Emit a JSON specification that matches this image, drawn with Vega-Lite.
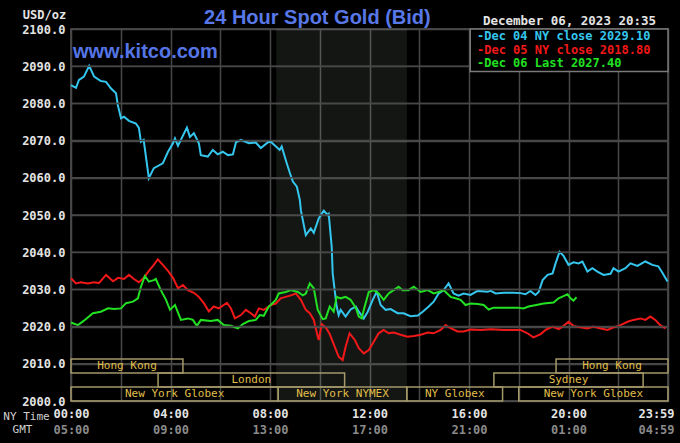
{
  "$schema": "https://vega.github.io/schema/vega-lite/v6.json",
  "width": 597,
  "height": 372,
  "autosize": "none",
  "padding": {"left": 71, "top": 29, "right": 12, "bottom": 42},
  "background": "#000000",
  "datasets": {
    "levels": [{"v": 2010}, {"v": 2020}, {"v": 2030}, {"v": 2040}, {"v": 2050}, {"v": 2060}, {"v": 2070}, {"v": 2080}, {"v": 2090}],
    "prices": [
      {"s":"Dec 05","t":0,"p":2033},{"s":"Dec 05","t":0.2,"p":2031.6},{"s":"Dec 05","t":0.4,"p":2031.9},{"s":"Dec 05","t":0.68,"p":2031.6},{"s":"Dec 05","t":0.92,"p":2031.9},{"s":"Dec 05","t":1.12,"p":2031.7},{"s":"Dec 05","t":1.41,"p":2033.9},{"s":"Dec 05","t":1.69,"p":2032.2},{"s":"Dec 05","t":1.89,"p":2033.1},{"s":"Dec 05","t":2.13,"p":2032.8},{"s":"Dec 05","t":2.33,"p":2033.9},{"s":"Dec 05","t":2.53,"p":2032.8},{"s":"Dec 05","t":2.73,"p":2031.9},{"s":"Dec 05","t":2.93,"p":2033.1},{"s":"Dec 05","t":3.13,"p":2035},{"s":"Dec 05","t":3.33,"p":2036.6},{"s":"Dec 05","t":3.49,"p":2038.1},{"s":"Dec 05","t":3.69,"p":2036.6},{"s":"Dec 05","t":3.9,"p":2035},{"s":"Dec 05","t":4.1,"p":2033.1},{"s":"Dec 05","t":4.3,"p":2030.3},{"s":"Dec 05","t":4.5,"p":2031.2},{"s":"Dec 05","t":4.7,"p":2029.8},{"s":"Dec 05","t":4.94,"p":2029.1},{"s":"Dec 05","t":5.14,"p":2028},{"s":"Dec 05","t":5.34,"p":2026.3},{"s":"Dec 05","t":5.54,"p":2024.1},{"s":"Dec 05","t":5.74,"p":2025.4},{"s":"Dec 05","t":5.94,"p":2024.9},{"s":"Dec 05","t":6.27,"p":2026.4},{"s":"Dec 05","t":6.43,"p":2024.9},{"s":"Dec 05","t":6.59,"p":2022.2},{"s":"Dec 05","t":6.83,"p":2023.1},{"s":"Dec 05","t":7.03,"p":2024.5},{"s":"Dec 05","t":7.23,"p":2023.6},{"s":"Dec 05","t":7.39,"p":2022.7},{"s":"Dec 05","t":7.55,"p":2024.9},{"s":"Dec 05","t":7.75,"p":2024.5},{"s":"Dec 05","t":7.95,"p":2025.4},{"s":"Dec 05","t":8.03,"p":2025.8},{"s":"Dec 05","t":8.23,"p":2026.2},{"s":"Dec 05","t":8.43,"p":2027.6},{"s":"Dec 05","t":8.63,"p":2028},{"s":"Dec 05","t":8.84,"p":2028.4},{"s":"Dec 05","t":9.04,"p":2028.9},{"s":"Dec 05","t":9.24,"p":2027.2},{"s":"Dec 05","t":9.44,"p":2024.5},{"s":"Dec 05","t":9.6,"p":2023.6},{"s":"Dec 05","t":9.76,"p":2021.8},{"s":"Dec 05","t":9.92,"p":2017.3},{"s":"Dec 05","t":9.96,"p":2016.4},{"s":"Dec 05","t":10.08,"p":2020.7},{"s":"Dec 05","t":10.24,"p":2019.8},{"s":"Dec 05","t":10.4,"p":2018},{"s":"Dec 05","t":10.6,"p":2014.6},{"s":"Dec 05","t":10.76,"p":2011.9},{"s":"Dec 05","t":10.92,"p":2011},{"s":"Dec 05","t":11.04,"p":2014.6},{"s":"Dec 05","t":11.2,"p":2018.2},{"s":"Dec 05","t":11.41,"p":2016.4},{"s":"Dec 05","t":11.57,"p":2014.2},{"s":"Dec 05","t":11.77,"p":2012.8},{"s":"Dec 05","t":11.97,"p":2013.7},{"s":"Dec 05","t":12.17,"p":2015.9},{"s":"Dec 05","t":12.37,"p":2018.2},{"s":"Dec 05","t":12.57,"p":2019.1},{"s":"Dec 05","t":12.77,"p":2018.2},{"s":"Dec 05","t":12.97,"p":2018.4},{"s":"Dec 05","t":13.25,"p":2017.8},{"s":"Dec 05","t":13.53,"p":2017.3},{"s":"Dec 05","t":13.78,"p":2017.5},{"s":"Dec 05","t":14.06,"p":2017.8},{"s":"Dec 05","t":14.34,"p":2018.4},{"s":"Dec 05","t":14.58,"p":2018.2},{"s":"Dec 05","t":14.86,"p":2019.1},{"s":"Dec 05","t":15.06,"p":2020.4},{"s":"Dec 05","t":15.26,"p":2019.6},{"s":"Dec 05","t":15.54,"p":2018.7},{"s":"Dec 05","t":15.78,"p":2018.7},{"s":"Dec 05","t":16.06,"p":2019.2},{"s":"Dec 05","t":16.47,"p":2019.1},{"s":"Dec 05","t":16.87,"p":2019.3},{"s":"Dec 05","t":17.39,"p":2019.1},{"s":"Dec 05","t":18.07,"p":2019.1},{"s":"Dec 05","t":18.35,"p":2018.2},{"s":"Dec 05","t":18.59,"p":2017.1},{"s":"Dec 05","t":18.88,"p":2018},{"s":"Dec 05","t":19.08,"p":2019.1},{"s":"Dec 05","t":19.36,"p":2020},{"s":"Dec 05","t":19.6,"p":2019.3},{"s":"Dec 05","t":19.8,"p":2020.2},{"s":"Dec 05","t":20.0,"p":2021.3},{"s":"Dec 05","t":20.2,"p":2020.2},{"s":"Dec 05","t":20.48,"p":2019.8},{"s":"Dec 05","t":20.76,"p":2019.5},{"s":"Dec 05","t":21.0,"p":2020},{"s":"Dec 05","t":21.29,"p":2019.5},{"s":"Dec 05","t":21.57,"p":2019.1},{"s":"Dec 05","t":21.81,"p":2019.8},{"s":"Dec 05","t":22.09,"p":2020.4},{"s":"Dec 05","t":22.37,"p":2021.3},{"s":"Dec 05","t":22.61,"p":2021.8},{"s":"Dec 05","t":22.89,"p":2022.2},{"s":"Dec 05","t":23.09,"p":2021.8},{"s":"Dec 05","t":23.29,"p":2022.7},{"s":"Dec 05","t":23.49,"p":2021.8},{"s":"Dec 05","t":23.69,"p":2020.4},{"s":"Dec 05","t":23.9,"p":2019.5},
      {"s":"Dec 04","t":0,"p":2084.9},{"s":"Dec 04","t":0.2,"p":2084.2},{"s":"Dec 04","t":0.32,"p":2086.3},{"s":"Dec 04","t":0.52,"p":2087.2},{"s":"Dec 04","t":0.73,"p":2090.1},{"s":"Dec 04","t":0.93,"p":2087.2},{"s":"Dec 04","t":1.2,"p":2086},{"s":"Dec 04","t":1.41,"p":2085.8},{"s":"Dec 04","t":1.61,"p":2084},{"s":"Dec 04","t":1.81,"p":2082.7},{"s":"Dec 04","t":1.88,"p":2079.6},{"s":"Dec 04","t":2.01,"p":2076},{"s":"Dec 04","t":2.13,"p":2076.4},{"s":"Dec 04","t":2.33,"p":2075.3},{"s":"Dec 04","t":2.61,"p":2074.6},{"s":"Dec 04","t":2.73,"p":2073.4},{"s":"Dec 04","t":2.81,"p":2069.7},{"s":"Dec 04","t":2.92,"p":2070.2},{"s":"Dec 04","t":3.13,"p":2059.9},{"s":"Dec 04","t":3.33,"p":2062.6},{"s":"Dec 04","t":3.69,"p":2063.9},{"s":"Dec 04","t":3.9,"p":2067},{"s":"Dec 04","t":4.1,"p":2069.3},{"s":"Dec 04","t":4.18,"p":2070.6},{"s":"Dec 04","t":4.3,"p":2068.6},{"s":"Dec 04","t":4.66,"p":2073.5},{"s":"Dec 04","t":4.78,"p":2071},{"s":"Dec 04","t":4.94,"p":2072},{"s":"Dec 04","t":5.14,"p":2069.3},{"s":"Dec 04","t":5.22,"p":2066.1},{"s":"Dec 04","t":5.5,"p":2065.7},{"s":"Dec 04","t":5.7,"p":2067.5},{"s":"Dec 04","t":5.9,"p":2066.3},{"s":"Dec 04","t":6.1,"p":2067},{"s":"Dec 04","t":6.31,"p":2066.1},{"s":"Dec 04","t":6.51,"p":2066.3},{"s":"Dec 04","t":6.63,"p":2069.5},{"s":"Dec 04","t":6.83,"p":2070.2},{"s":"Dec 04","t":7.15,"p":2069.3},{"s":"Dec 04","t":7.43,"p":2069.5},{"s":"Dec 04","t":7.63,"p":2068},{"s":"Dec 04","t":7.91,"p":2069.5},{"s":"Dec 04","t":8.03,"p":2069.7},{"s":"Dec 04","t":8.39,"p":2067.5},{"s":"Dec 04","t":8.47,"p":2068.4},{"s":"Dec 04","t":8.67,"p":2064},{"s":"Dec 04","t":8.8,"p":2061.3},{"s":"Dec 04","t":8.92,"p":2059},{"s":"Dec 04","t":9.08,"p":2057.6},{"s":"Dec 04","t":9.2,"p":2054},{"s":"Dec 04","t":9.24,"p":2051.3},{"s":"Dec 04","t":9.44,"p":2044.6},{"s":"Dec 04","t":9.64,"p":2046.4},{"s":"Dec 04","t":9.76,"p":2045.2},{"s":"Dec 04","t":9.96,"p":2049.1},{"s":"Dec 04","t":10.16,"p":2051.2},{"s":"Dec 04","t":10.32,"p":2050},{"s":"Dec 04","t":10.36,"p":2050.3},{"s":"Dec 04","t":10.48,"p":2041.5},{"s":"Dec 04","t":10.52,"p":2034.3},{"s":"Dec 04","t":10.6,"p":2029.8},{"s":"Dec 04","t":10.68,"p":2025.4},{"s":"Dec 04","t":10.76,"p":2023.1},{"s":"Dec 04","t":10.84,"p":2024.5},{"s":"Dec 04","t":11.04,"p":2022.7},{"s":"Dec 04","t":11.24,"p":2024.6},{"s":"Dec 04","t":11.45,"p":2025.4},{"s":"Dec 04","t":11.57,"p":2024},{"s":"Dec 04","t":11.77,"p":2022.2},{"s":"Dec 04","t":11.93,"p":2024},{"s":"Dec 04","t":12.13,"p":2027.2},{"s":"Dec 04","t":12.29,"p":2029.4},{"s":"Dec 04","t":12.45,"p":2025.8},{"s":"Dec 04","t":12.65,"p":2024.5},{"s":"Dec 04","t":12.85,"p":2024.7},{"s":"Dec 04","t":13.13,"p":2023.6},{"s":"Dec 04","t":13.37,"p":2023.6},{"s":"Dec 04","t":13.65,"p":2022.8},{"s":"Dec 04","t":13.94,"p":2023},{"s":"Dec 04","t":14.14,"p":2024},{"s":"Dec 04","t":14.38,"p":2025.4},{"s":"Dec 04","t":14.58,"p":2026.7},{"s":"Dec 04","t":14.78,"p":2028.9},{"s":"Dec 04","t":14.98,"p":2029.8},{"s":"Dec 04","t":15.18,"p":2031.6},{"s":"Dec 04","t":15.38,"p":2028.9},{"s":"Dec 04","t":15.58,"p":2028.3},{"s":"Dec 04","t":15.78,"p":2028.9},{"s":"Dec 04","t":16.06,"p":2028.5},{"s":"Dec 04","t":16.35,"p":2029.6},{"s":"Dec 04","t":16.75,"p":2029.4},{"s":"Dec 04","t":16.87,"p":2029.6},{"s":"Dec 04","t":17.07,"p":2028.9},{"s":"Dec 04","t":17.39,"p":2029.1},{"s":"Dec 04","t":17.79,"p":2029.1},{"s":"Dec 04","t":18.07,"p":2029},{"s":"Dec 04","t":18.27,"p":2028.7},{"s":"Dec 04","t":18.47,"p":2029.6},{"s":"Dec 04","t":18.67,"p":2028.5},{"s":"Dec 04","t":18.8,"p":2029.3},{"s":"Dec 04","t":18.96,"p":2032.5},{"s":"Dec 04","t":19.16,"p":2033.9},{"s":"Dec 04","t":19.36,"p":2034.3},{"s":"Dec 04","t":19.48,"p":2037},{"s":"Dec 04","t":19.64,"p":2040.1},{"s":"Dec 04","t":19.8,"p":2039},{"s":"Dec 04","t":20.0,"p":2036.6},{"s":"Dec 04","t":20.2,"p":2037.3},{"s":"Dec 04","t":20.4,"p":2037},{"s":"Dec 04","t":20.56,"p":2037.5},{"s":"Dec 04","t":20.76,"p":2034.8},{"s":"Dec 04","t":20.96,"p":2035.7},{"s":"Dec 04","t":21.16,"p":2034.8},{"s":"Dec 04","t":21.41,"p":2033.9},{"s":"Dec 04","t":21.69,"p":2034.2},{"s":"Dec 04","t":21.81,"p":2035.7},{"s":"Dec 04","t":22.01,"p":2034.8},{"s":"Dec 04","t":22.29,"p":2035.7},{"s":"Dec 04","t":22.49,"p":2037},{"s":"Dec 04","t":22.77,"p":2036.3},{"s":"Dec 04","t":23.09,"p":2037.5},{"s":"Dec 04","t":23.37,"p":2036.6},{"s":"Dec 04","t":23.61,"p":2036.2},{"s":"Dec 04","t":23.78,"p":2034.4},{"s":"Dec 04","t":23.98,"p":2032.1},
      {"s":"Dec 06","t":0,"p":2021.1},{"s":"Dec 06","t":0.28,"p":2020.4},{"s":"Dec 06","t":0.52,"p":2021.6},{"s":"Dec 06","t":0.88,"p":2023.6},{"s":"Dec 06","t":1.2,"p":2024},{"s":"Dec 06","t":1.49,"p":2024.9},{"s":"Dec 06","t":1.73,"p":2024.7},{"s":"Dec 06","t":2.01,"p":2024.9},{"s":"Dec 06","t":2.21,"p":2026.3},{"s":"Dec 06","t":2.49,"p":2026.7},{"s":"Dec 06","t":2.69,"p":2027.6},{"s":"Dec 06","t":2.81,"p":2030.7},{"s":"Dec 06","t":2.97,"p":2033.6},{"s":"Dec 06","t":3.13,"p":2032.1},{"s":"Dec 06","t":3.33,"p":2032.5},{"s":"Dec 06","t":3.41,"p":2032.8},{"s":"Dec 06","t":3.61,"p":2029.8},{"s":"Dec 06","t":3.82,"p":2027.2},{"s":"Dec 06","t":3.98,"p":2024.5},{"s":"Dec 06","t":4.18,"p":2025.8},{"s":"Dec 06","t":4.42,"p":2021.8},{"s":"Dec 06","t":4.7,"p":2022.2},{"s":"Dec 06","t":4.9,"p":2021.8},{"s":"Dec 06","t":5.06,"p":2020.2},{"s":"Dec 06","t":5.22,"p":2021.8},{"s":"Dec 06","t":5.62,"p":2021.5},{"s":"Dec 06","t":5.9,"p":2021.8},{"s":"Dec 06","t":6.14,"p":2020.4},{"s":"Dec 06","t":6.43,"p":2020.2},{"s":"Dec 06","t":6.71,"p":2019.5},{"s":"Dec 06","t":6.91,"p":2020.7},{"s":"Dec 06","t":7.15,"p":2021.5},{"s":"Dec 06","t":7.43,"p":2021.8},{"s":"Dec 06","t":7.59,"p":2023.1},{"s":"Dec 06","t":7.75,"p":2022.9},{"s":"Dec 06","t":7.95,"p":2025.4},{"s":"Dec 06","t":8.03,"p":2025.8},{"s":"Dec 06","t":8.23,"p":2027.2},{"s":"Dec 06","t":8.35,"p":2028.9},{"s":"Dec 06","t":8.63,"p":2029.3},{"s":"Dec 06","t":8.84,"p":2029.8},{"s":"Dec 06","t":9.12,"p":2029.3},{"s":"Dec 06","t":9.32,"p":2028.4},{"s":"Dec 06","t":9.44,"p":2028.9},{"s":"Dec 06","t":9.6,"p":2031.6},{"s":"Dec 06","t":9.76,"p":2030.3},{"s":"Dec 06","t":9.92,"p":2024.5},{"s":"Dec 06","t":10.12,"p":2022},{"s":"Dec 06","t":10.24,"p":2022.2},{"s":"Dec 06","t":10.4,"p":2025.4},{"s":"Dec 06","t":10.56,"p":2024},{"s":"Dec 06","t":10.68,"p":2028},{"s":"Dec 06","t":10.84,"p":2027.6},{"s":"Dec 06","t":11.04,"p":2028},{"s":"Dec 06","t":11.24,"p":2027.2},{"s":"Dec 06","t":11.45,"p":2025},{"s":"Dec 06","t":11.57,"p":2022.7},{"s":"Dec 06","t":11.69,"p":2022.2},{"s":"Dec 06","t":11.77,"p":2024.5},{"s":"Dec 06","t":11.97,"p":2029.3},{"s":"Dec 06","t":12.17,"p":2029.8},{"s":"Dec 06","t":12.37,"p":2028.9},{"s":"Dec 06","t":12.57,"p":2027.2},{"s":"Dec 06","t":12.77,"p":2028.9},{"s":"Dec 06","t":12.97,"p":2029.8},{"s":"Dec 06","t":13.17,"p":2030.7},{"s":"Dec 06","t":13.33,"p":2029.8},{"s":"Dec 06","t":13.57,"p":2029.8},{"s":"Dec 06","t":13.78,"p":2030.7},{"s":"Dec 06","t":14.06,"p":2029.3},{"s":"Dec 06","t":14.34,"p":2029.8},{"s":"Dec 06","t":14.58,"p":2028.9},{"s":"Dec 06","t":14.78,"p":2029.3},{"s":"Dec 06","t":14.98,"p":2029.8},{"s":"Dec 06","t":15.26,"p":2028},{"s":"Dec 06","t":15.46,"p":2027.6},{"s":"Dec 06","t":15.66,"p":2027.2},{"s":"Dec 06","t":15.86,"p":2025.8},{"s":"Dec 06","t":16.06,"p":2026.2},{"s":"Dec 06","t":16.35,"p":2026.1},{"s":"Dec 06","t":16.59,"p":2025.8},{"s":"Dec 06","t":16.79,"p":2024.6},{"s":"Dec 06","t":16.99,"p":2025.1},{"s":"Dec 06","t":17.39,"p":2025.1},{"s":"Dec 06","t":17.95,"p":2025.1},{"s":"Dec 06","t":18.19,"p":2024.9},{"s":"Dec 06","t":18.39,"p":2025.4},{"s":"Dec 06","t":18.76,"p":2025.9},{"s":"Dec 06","t":19.0,"p":2026.2},{"s":"Dec 06","t":19.4,"p":2026.5},{"s":"Dec 06","t":19.6,"p":2027.6},{"s":"Dec 06","t":19.8,"p":2028.2},{"s":"Dec 06","t":19.96,"p":2028.7},{"s":"Dec 06","t":20.08,"p":2027.6},{"s":"Dec 06","t":20.2,"p":2027},{"s":"Dec 06","t":20.32,"p":2027.9}
    ],
    "sessions": [
      {"name":"Hong Kong","start":0,"end":4.5,"row":3},
      {"name":"Hong Kong","start":19.5,"end":24,"row":3},
      {"name":"London","start":3.5,"end":11.0,"row":2},
      {"name":"Sydney","start":17.0,"end":23.0,"row":2},
      {"name":"New York Globex","start":0,"end":8.33,"row":1},
      {"name":"New York NYMEX","start":8.33,"end":13.5,"row":1},
      {"name":"NY Globex","start":13.5,"end":17.35,"row":1},
      {"name":"New York Globex","start":18.0,"end":24,"row":1}
    ]
  },
  "resolve": {"axis": {"x": "independent", "y": "independent"}},
  "layer": [
    {
      "data": {"values": [{"from": 8.25, "to": 13.5}]},
      "mark": {"type": "rect", "fill": "#c8dcc8", "fillOpacity": 0.1},
      "encoding": {
        "x": {"field": "from", "type": "quantitative", "scale": {"domain": [0, 24], "nice": false, "zero": false},
          "axis": {"orient": "bottom", "values": [0, 4, 8, 12, 16, 20, 24], "grid": false, "labelOverlap": false, "labelFlush": false,
            "labelExpr": "datum.value == 24 ? '04:59' : ((((datum.value + 5) % 24) < 10 ? '0' : '') + ((datum.value + 5) % 24) + ':00')",
            "labelColor": "#8a8a8a", "labelPadding": 23,
            "labelOffset": {"condition": {"test": "datum.value == 24", "value": -12}, "value": 0},
            "title": "GMT", "titleX": -49, "titleY": 28, "titleAlign": "center", "titleBaseline": "middle",
            "titleFont": "DejaVu Sans Mono", "titleFontSize": 11, "titleFontWeight": "normal", "titleColor": "#d0d0d0"}},
        "x2": {"field": "to"}
      }
    },
    {
      "data": {"name": "prices"},
      "mark": {"type": "line", "strokeWidth": 2},
      "encoding": {
        "x": {"field": "t", "type": "quantitative",
          "axis": {"orient": "bottom", "values": [0, 2, 4, 6, 8, 10, 12, 14, 16, 18, 20, 22, 24], "grid": true, "labelOverlap": false, "labelFlush": false,
            "labelExpr": "datum.value == 24 ? '23:59' : (datum.value % 4 == 0 ? ((datum.value < 10 ? '0' : '') + datum.value + ':00') : '')",
            "labelColor": "#e4e4e4", "labelPadding": 7,
            "labelOffset": {"condition": {"test": "datum.value == 24", "value": -12}, "value": 0},
            "title": "NY Time", "titleX": -45, "titleY": 15, "titleAlign": "center", "titleBaseline": "middle",
            "titleFont": "DejaVu Sans Mono", "titleFontSize": 11, "titleFontWeight": "normal", "titleColor": "#d0d0d0"}},
        "y": {"field": "p", "type": "quantitative", "scale": {"domain": [2000, 2100], "nice": false, "zero": false},
          "axis": {"orient": "left", "values": [2000, 2010, 2020, 2030, 2040, 2050, 2060, 2070, 2080, 2090, 2100], "format": ".1f", "grid": true, "labelOverlap": false,
            "gridColor": "#474747", "gridWidth": 1.5,
            "labelPadding": 6, "labelColor": "#e4e4e4",
            "title": "USD/oz", "titleAngle": 0, "titleX": -27, "titleY": -15, "titleAlign": "center", "titleBaseline": "middle",
            "titleFont": "DejaVu Sans Mono", "titleFontSize": 12, "titleFontWeight": "bold", "titleColor": "#e4e4e4"}},
        "color": {"field": "s", "type": "nominal", "scale": {"domain": ["Dec 04", "Dec 05", "Dec 06"], "range": ["#35c6ee", "#f01818", "#22e022"]}, "legend": null}
      }
    },
    {
      "data": {"name": "levels"},
      "mark": {"type": "rule", "stroke": "#474747", "strokeWidth": 1.5},
      "encoding": {
        "y": {"field": "v", "type": "quantitative", "axis": null}
      }
    },
    {
      "data": {"name": "sessions"},
      "transform": [
        {"calculate": "2000 + (datum.row - 1) * 3.77", "as": "lo"},
        {"calculate": "2000 + datum.row * 3.77", "as": "hi"}
      ],
      "mark": {"type": "rect", "fill": "#000000", "fillOpacity": 0, "stroke": "#a39868", "strokeWidth": 1.5},
      "encoding": {
        "x": {"field": "start", "type": "quantitative", "axis": null},
        "x2": {"field": "end"},
        "y": {"field": "lo", "type": "quantitative", "axis": null},
        "y2": {"field": "hi"}
      }
    },
    {
      "data": {"name": "sessions"},
      "transform": [
        {"calculate": "(datum.start + datum.end) / 2", "as": "mid"},
        {"calculate": "2000 + (datum.row - 0.5) * 3.77", "as": "ym"}
      ],
      "mark": {"type": "text", "font": "DejaVu Sans Mono", "fontSize": 11, "color": "#e0be48", "align": "center", "baseline": "middle"},
      "encoding": {
        "x": {"field": "mid", "type": "quantitative", "axis": null},
        "y": {"field": "ym", "type": "quantitative", "axis": null},
        "text": {"field": "name"}
      }
    },
    {
      "data": {"values": [{}]},
      "mark": {"type": "rect", "fill": "#000000", "stroke": "#7a7a7a", "strokeWidth": 1.5},
      "encoding": {
        "x": {"datum": 16.05, "type": "quantitative", "axis": null},
        "x2": {"datum": 24},
        "y": {"datum": 2100, "type": "quantitative", "axis": null},
        "y2": {"datum": 2088.6}
      }
    },
    {
      "data": {"values": [{}]},
      "mark": {"type": "text", "text": "-Dec 04 NY close 2029.10", "font": "DejaVu Sans Mono", "fontWeight": "bold", "fontSize": 12, "color": "#35c6ee", "align": "left", "baseline": "middle"},
      "encoding": {"x": {"datum": 16.32, "type": "quantitative", "axis": null}, "y": {"datum": 2098.1, "type": "quantitative", "axis": null}}
    },
    {
      "data": {"values": [{}]},
      "mark": {"type": "text", "text": "-Dec 05 NY close 2018.80", "font": "DejaVu Sans Mono", "fontWeight": "bold", "fontSize": 12, "color": "#f01818", "align": "left", "baseline": "middle"},
      "encoding": {"x": {"datum": 16.32, "type": "quantitative", "axis": null}, "y": {"datum": 2094.35, "type": "quantitative", "axis": null}}
    },
    {
      "data": {"values": [{}]},
      "mark": {"type": "text", "text": "-Dec 06 Last 2027.40", "font": "DejaVu Sans Mono", "fontWeight": "bold", "fontSize": 12, "color": "#22e022", "align": "left", "baseline": "middle"},
      "encoding": {"x": {"datum": 16.32, "type": "quantitative", "axis": null}, "y": {"datum": 2090.85, "type": "quantitative", "axis": null}}
    },
    {
      "data": {"values": [{}]},
      "mark": {"type": "text", "text": "December 06, 2023 20:35", "font": "DejaVu Sans Mono", "fontWeight": "bold", "fontSize": 12.5, "color": "#e4e4e4", "align": "right", "baseline": "middle"},
      "encoding": {"x": {"datum": 23.52, "type": "quantitative", "axis": null}, "y": {"datum": 2102.15, "type": "quantitative", "axis": null}}
    },
    {
      "data": {"values": [{}]},
      "mark": {"type": "text", "text": "24 Hour Spot Gold (Bid)", "font": "Liberation Sans", "fontWeight": "bold", "fontSize": 20, "color": "#5878e8", "align": "left", "baseline": "alphabetic"},
      "encoding": {"x": {"datum": 5.35, "type": "quantitative", "axis": null}, "y": {"datum": 2101.34, "type": "quantitative", "axis": null}}
    },
    {
      "data": {"values": [{}]},
      "mark": {"type": "text", "text": "www.kitco.com", "font": "Liberation Sans", "fontWeight": "bold", "fontSize": 20, "color": "#5575e6", "align": "left", "baseline": "alphabetic"},
      "encoding": {"x": {"datum": 0.08, "type": "quantitative", "axis": null}, "y": {"datum": 2092.2, "type": "quantitative", "axis": null}}
    }
  ],
  "config": {
    "view": {"stroke": "#5a5a5a", "strokeWidth": 1.5},
    "axis": {"domain": false, "ticks": false, "tickSize": 0, "gridColor": "#474747", "gridWidth": 1.5,
      "labelFont": "DejaVu Sans Mono", "labelFontWeight": "bold", "labelFontSize": 12, "labelColor": "#e4e4e4"}
  }
}
